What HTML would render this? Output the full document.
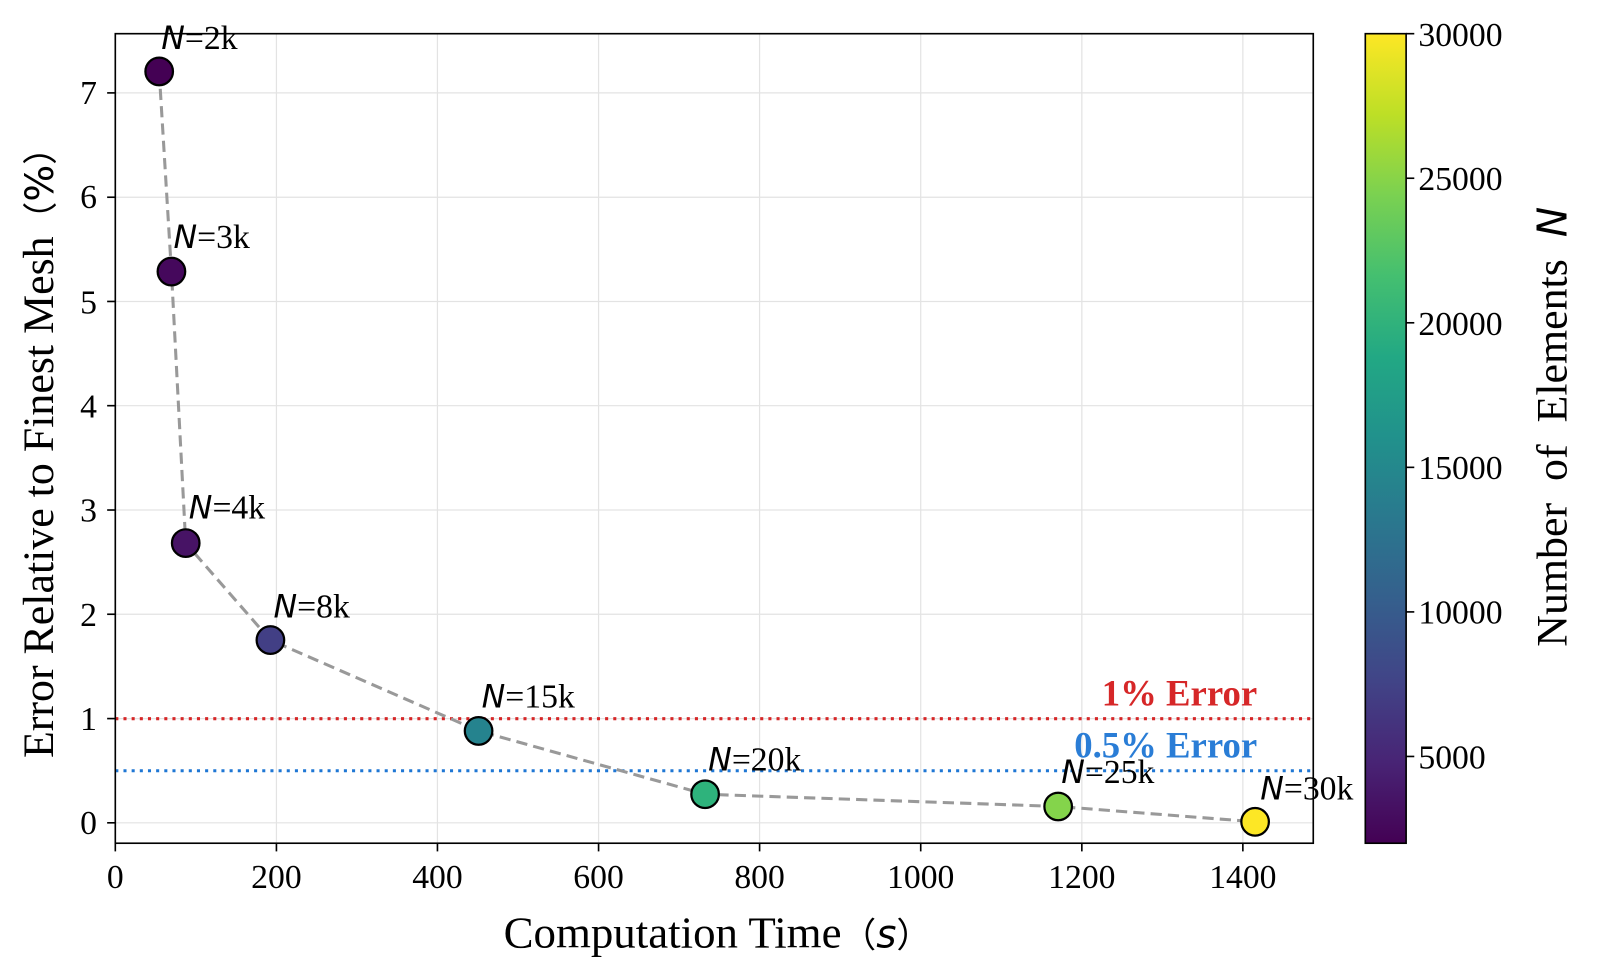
<!DOCTYPE html>
<html><head><meta charset="utf-8"><style>html,body{margin:0;padding:0;background:#fff}svg{display:block}</style></head>
<body>
<svg width="1600" height="979" viewBox="0 0 1568 959" preserveAspectRatio="none" xmlns="http://www.w3.org/2000/svg" font-family="Liberation Serif, serif">
<defs>
<linearGradient id="vir" x1="0" y1="1" x2="0" y2="0">
<stop offset="0" stop-color="#440154"/><stop offset="0.1" stop-color="#482475"/><stop offset="0.2" stop-color="#414487"/><stop offset="0.3" stop-color="#355f8d"/><stop offset="0.4" stop-color="#2a788e"/><stop offset="0.5" stop-color="#21918c"/><stop offset="0.6" stop-color="#22a884"/><stop offset="0.7" stop-color="#44bf70"/><stop offset="0.8" stop-color="#7ad151"/><stop offset="0.9" stop-color="#bddf26"/><stop offset="1" stop-color="#fde725"/>
</linearGradient>
</defs>
<g stroke="#e3e3e3" stroke-width="1.2">
<line x1="113" y1="33" x2="113" y2="826"/><line x1="270.9" y1="33" x2="270.9" y2="826"/><line x1="428.7" y1="33" x2="428.7" y2="826"/><line x1="586.6" y1="33" x2="586.6" y2="826"/><line x1="744.4" y1="33" x2="744.4" y2="826"/><line x1="902.3" y1="33" x2="902.3" y2="826"/><line x1="1060.2" y1="33" x2="1060.2" y2="826"/><line x1="1218" y1="33" x2="1218" y2="826"/>
<line x1="113" y1="806" x2="1287" y2="806"/><line x1="113" y1="703.9" x2="1287" y2="703.9"/><line x1="113" y1="601.7" x2="1287" y2="601.7"/><line x1="113" y1="499.6" x2="1287" y2="499.6"/><line x1="113" y1="397.4" x2="1287" y2="397.4"/><line x1="113" y1="295.3" x2="1287" y2="295.3"/><line x1="113" y1="193.2" x2="1287" y2="193.2"/><line x1="113" y1="91" x2="1287" y2="91"/>
</g>
<line x1="113" y1="704" x2="1287" y2="704" stroke="#d62728" stroke-width="3" stroke-dasharray="3,5"/>
<line x1="113" y1="755" x2="1287" y2="755" stroke="#1f77d4" stroke-width="3" stroke-dasharray="3,5"/>
<text x="1232" y="691" text-anchor="end" font-size="36" font-weight="bold" fill="#d62728">1% Error</text>
<text x="1232" y="742" text-anchor="end" font-size="36" font-weight="bold" fill="#1f77d4" opacity="0.95">0.5% Error</text>
<polyline points="156,70 168,266 182,532 265,627 469,716 691,778 1037,790 1230,805" fill="none" stroke="#999" stroke-width="3" stroke-dasharray="11,6"/>
<g font-size="33" fill="#000">
<text x="158" y="48"><tspan font-family="DejaVu Sans, sans-serif" font-style="italic" font-size="31">N</tspan>=2k</text>
<text x="170" y="243"><tspan font-family="DejaVu Sans, sans-serif" font-style="italic" font-size="31">N</tspan>=3k</text>
<text x="185" y="508"><tspan font-family="DejaVu Sans, sans-serif" font-style="italic" font-size="31">N</tspan>=4k</text>
<text x="268" y="605"><tspan font-family="DejaVu Sans, sans-serif" font-style="italic" font-size="31">N</tspan>=8k</text>
<text x="472" y="693"><tspan font-family="DejaVu Sans, sans-serif" font-style="italic" font-size="31">N</tspan>=15k</text>
<text x="694" y="755"><tspan font-family="DejaVu Sans, sans-serif" font-style="italic" font-size="31">N</tspan>=20k</text>
<text x="1040" y="767"><tspan font-family="DejaVu Sans, sans-serif" font-style="italic" font-size="31">N</tspan>=25k</text>
<text x="1235" y="783"><tspan font-family="DejaVu Sans, sans-serif" font-style="italic" font-size="31">N</tspan>=30k</text>
</g>
<g stroke="#000" stroke-width="2.2">
<circle cx="156" cy="70" r="13.5" fill="#440154"/>
<circle cx="168" cy="266" r="13.5" fill="#45085c"/>
<circle cx="182" cy="532" r="13.5" fill="#471365"/>
<circle cx="265" cy="627" r="13.5" fill="#423f85"/>
<circle cx="469" cy="716" r="13.5" fill="#25838e"/>
<circle cx="691" cy="778" r="13.5" fill="#2eb37c"/>
<circle cx="1037" cy="790" r="13.5" fill="#84d44b"/>
<circle cx="1230" cy="805" r="13.5" fill="#fde725"/>
</g>
<rect x="113" y="33" width="1174" height="793" fill="none" stroke="#000" stroke-width="1.6"/>
<g stroke="#000" stroke-width="1.6">
<line x1="113" y1="826" x2="113" y2="834"/><line x1="270.9" y1="826" x2="270.9" y2="834"/><line x1="428.7" y1="826" x2="428.7" y2="834"/><line x1="586.6" y1="826" x2="586.6" y2="834"/><line x1="744.4" y1="826" x2="744.4" y2="834"/><line x1="902.3" y1="826" x2="902.3" y2="834"/><line x1="1060.2" y1="826" x2="1060.2" y2="834"/><line x1="1218" y1="826" x2="1218" y2="834"/>
<line x1="105" y1="806" x2="113" y2="806"/><line x1="105" y1="703.9" x2="113" y2="703.9"/><line x1="105" y1="601.7" x2="113" y2="601.7"/><line x1="105" y1="499.6" x2="113" y2="499.6"/><line x1="105" y1="397.4" x2="113" y2="397.4"/><line x1="105" y1="295.3" x2="113" y2="295.3"/><line x1="105" y1="193.2" x2="113" y2="193.2"/><line x1="105" y1="91" x2="113" y2="91"/>
</g>
<g font-size="33" text-anchor="middle">
<text x="113" y="870">0</text><text x="270.9" y="870">200</text><text x="428.7" y="870">400</text><text x="586.6" y="870">600</text><text x="744.4" y="870">800</text><text x="902.3" y="870">1000</text><text x="1060.2" y="870">1200</text><text x="1218" y="870">1400</text>
</g>
<g font-size="33" text-anchor="end">
<text x="95" y="817">0</text><text x="95" y="715">1</text><text x="95" y="613">2</text><text x="95" y="511">3</text><text x="95" y="409">4</text><text x="95" y="307">5</text><text x="95" y="204">6</text><text x="95" y="102">7</text>
</g>
<text x="703" y="928" text-anchor="middle" font-size="44">Computation Time<tspan font-family="Noto Sans CJK SC, sans-serif" font-size="34">（</tspan><tspan font-family="DejaVu Sans, sans-serif" font-style="italic" font-size="38">s</tspan><tspan font-family="Noto Sans CJK SC, sans-serif" font-size="34">）</tspan></text>
<text transform="translate(52,435) rotate(-90)" text-anchor="middle" font-size="43">Error Relative to Finest Mesh<tspan font-family="Noto Sans CJK SC, sans-serif" font-size="34">（</tspan><tspan font-family="DejaVu Sans, sans-serif" font-size="38">%</tspan><tspan font-family="Noto Sans CJK SC, sans-serif" font-size="34">）</tspan></text>
<rect x="1338" y="33" width="40" height="793" fill="url(#vir)" stroke="#000" stroke-width="1.6"/>
<g stroke="#000" stroke-width="1.6">
<line x1="1378" y1="33" x2="1386" y2="33"/><line x1="1378" y1="174.6" x2="1386" y2="174.6"/><line x1="1378" y1="316.2" x2="1386" y2="316.2"/><line x1="1378" y1="457.8" x2="1386" y2="457.8"/><line x1="1378" y1="599.4" x2="1386" y2="599.4"/><line x1="1378" y1="741" x2="1386" y2="741"/>
</g>
<g font-size="33">
<text x="1390" y="45">30000</text><text x="1390" y="186">25000</text><text x="1390" y="328">20000</text><text x="1390" y="469">15000</text><text x="1390" y="611">10000</text><text x="1390" y="753">5000</text>
</g>
<text transform="translate(1535,418) rotate(-90)" text-anchor="middle" font-size="43" xml:space="preserve">Number  of  Elements  <tspan font-family="DejaVu Sans, sans-serif" font-style="italic" font-size="40">N</tspan></text>
</svg>
</body></html>
